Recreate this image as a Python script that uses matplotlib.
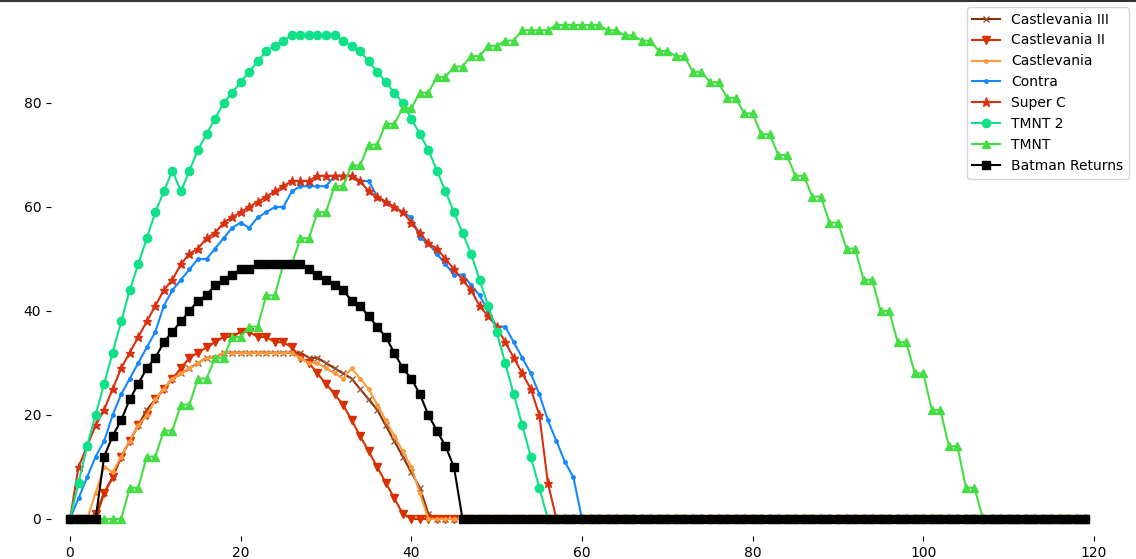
import numpy as np
import matplotlib
matplotlib.use("Agg")
import matplotlib.pyplot as plt
from matplotlib.lines import Line2D

N = 120  # frames 0..119, every series ends flat at zero

cv3 = [0, 0, 0, 0, 5, 8, 12, 15, 18, 21,
       23, 25, 27, 28, 29, 30, 31, 31, 32, 32,
       32, 32, 32, 32, 32, 32, 32, 32, 31, 31,
       30, 29, 28, 27, 25, 23, 21, 18, 15, 12,
       9, 6, 1]
cv2 = [0, 0, 0, 1, 5, 8, 12, 15, 18, 20,
       23, 25, 27, 29, 31, 32, 33, 34, 35, 35,
       36, 36, 35, 35, 34, 34, 33, 31, 30, 28,
       26, 24, 22, 19, 16, 13, 10, 7, 4, 1]
cv1 = [0, 0, 0, 5, 10, 9, 12, 15, 18, 20,
       23, 25, 27, 28, 29, 30, 31, 31, 32, 32,
       32, 32, 32, 32, 32, 32, 32, 31, 30, 30,
       29, 28, 27, 29, 27, 25, 22, 19, 16, 13,
       10, 5]
contra = [0, 4, 8, 12, 15, 20, 24, 27, 30, 33,
          36, 41, 44, 46, 48, 50, 50, 52, 54, 56,
          57, 56, 58, 59, 60, 60, 63, 64, 64, 64,
          64, 66, 66, 66, 65, 65, 62, 61, 60, 59,
          58, 54, 53, 51, 49, 47, 47, 45, 43, 40,
          37, 37, 34, 31, 28, 24, 19, 15, 11, 8]
superc = [0, 10, 14, 18, 21, 25, 29, 32, 35, 38,
          41, 44, 46, 49, 51, 52, 54, 55, 57, 58,
          59, 60, 61, 62, 63, 64, 65, 65, 65, 66,
          66, 66, 66, 66, 65, 63, 62, 61, 60, 59,
          57, 55, 53, 52, 50, 48, 46, 44, 41, 39,
          37, 34, 31, 28, 25, 20, 7]
tmnt2 = [0, 7, 14, 20, 26, 32, 38, 44, 49, 54,
         59, 63, 67, 63, 67, 71, 74, 77, 80, 82,
         84, 86, 88, 90, 91, 92, 93, 93, 93, 93,
         93, 93, 92, 91, 90, 88, 86, 84, 82, 80,
         77, 74, 71, 67, 63, 59, 55, 51, 46, 41,
         36, 30, 24, 18, 12, 6]
tmnt = [0, 0, 0, 0, 0, 0, 0, 6, 6, 12,
        12, 17, 17, 22, 22, 27, 27, 31, 31, 35,
        35, 37, 37, 43, 43, 49, 49, 54, 54, 59,
        59, 64, 64, 68, 68, 72, 72, 76, 76, 79,
        79, 82, 82, 85, 85, 87, 87, 89, 89, 91,
        91, 92, 92, 94, 94, 94, 94, 95, 95, 95,
        95, 95, 95, 94, 94, 93, 93, 92, 92, 90,
        90, 89, 89, 86, 86, 84, 84, 81, 81, 78,
        78, 74, 74, 70, 70, 66, 66, 62, 62, 57,
        57, 52, 52, 46, 46, 40, 40, 34, 34, 28,
        28, 21, 21, 14, 14, 6, 6]
batman = [0, 0, 0, 0, 12, 16, 19, 23, 26, 29,
          31, 34, 36, 38, 40, 42, 43, 45, 46, 47,
          48, 48, 49, 49, 49, 49, 49, 49, 48, 47,
          46, 45, 44, 42, 41, 39, 37, 35, 32, 29,
          27, 24, 20, 17, 14, 10]


def pad(vals):
    return np.array(vals + [0] * (N - len(vals)))


x = np.arange(N)

fig = plt.figure(figsize=(11.36, 5.59), dpi=100)
ax = fig.add_axes([51 / 1136, 23 / 559, 1 - 51 / 1136, 1 - 23 / 559])

ax.plot(x, pad(cv3), color='#80300c', marker='x', ms=5, lw=1.5, mec='#a0522d', label='Castlevania III')
ax.plot(x, pad(cv2), color='#d83000', marker='v', ms=6, lw=1.5, label='Castlevania II')
ax.plot(x, pad(cv1), color='#ff9a3c', marker='.', ms=5, lw=1.5, label='Castlevania')
ax.plot(x, pad(contra), color='#1488ff', marker='.', ms=5, lw=1.5, label='Contra')
ax.plot(x, pad(superc), color='#d83010', marker='*', ms=6.5, lw=1.5, label='Super C')
ax.plot(x, pad(tmnt2), color='#10e088', marker='o', ms=6, lw=1.5, label='TMNT 2')
ax.plot(x, pad(tmnt), color='#44dd44', marker='^', ms=6, lw=1.5, label='TMNT')
ax.plot(x, pad(batman), color='black', marker='s', ms=5.5, lw=1.5, label='Batman Returns')

ax.set_xlim((51 - 70) / 8.533, (1136 - 70) / 8.533)
ax.set_ylim((519 - 536) / 5.2, 519 / 5.2)
ax.set_xticks([0, 20, 40, 60, 80, 100, 120])
ax.set_yticks([0, 20, 40, 60, 80])

for s in ['left', 'bottom', 'right', 'top']:
    ax.spines[s].set_visible(False)
# thin dark border along the top edge of the picture
fig.add_artist(Line2D([0, 1], [0.999, 0.999], transform=fig.transFigure, color='#333333', lw=1.5))

ax.legend(loc='upper right', fontsize=10)

fig.savefig('out.png', dpi=100)
